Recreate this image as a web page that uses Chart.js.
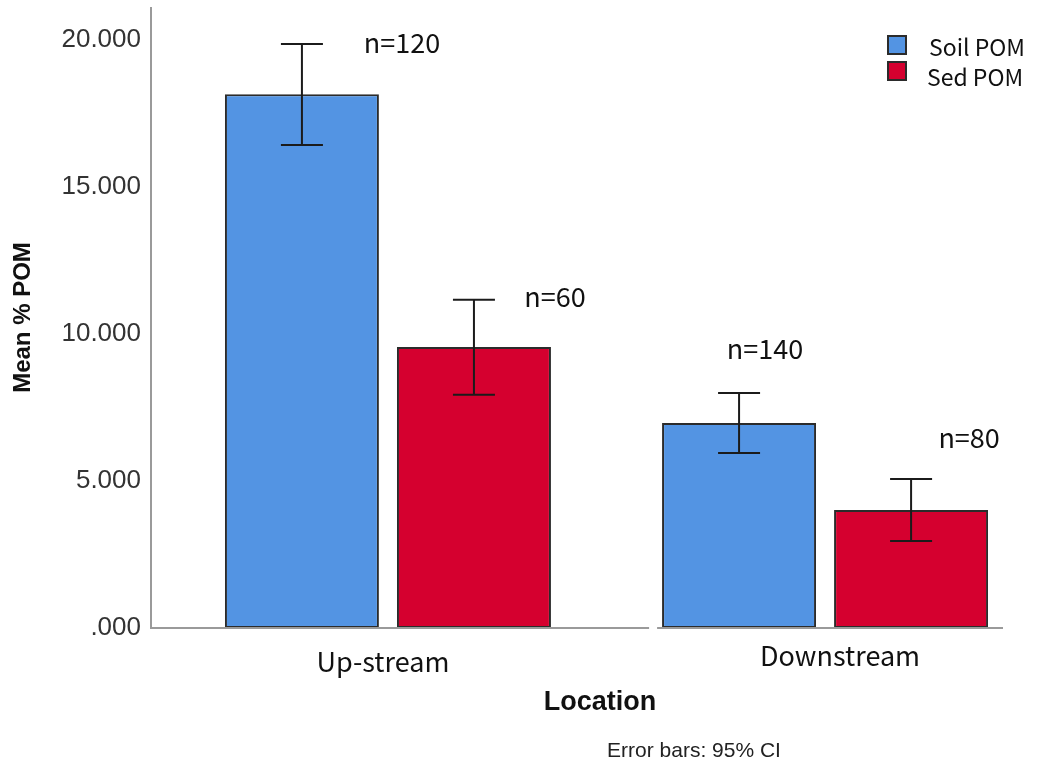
<!DOCTYPE html>
<html>
<head>
<meta charset="utf-8">
<script src="https://cdn.jsdelivr.net/npm/chart.js@4.4.1/dist/chart.umd.min.js"></script>
<style>
  html, body { margin: 0; padding: 0; background: #fff; }
  #wrap { width: 1037px; height: 765px; position: relative; }
</style>
</head>
<body>
<div id="wrap"><canvas id="graph-canvas" width="1037" height="765"></canvas></div>
<script>
// values
const categories = ['Up-stream', 'Downstream'];
const soilMean = [18.15, 6.97];
const soilLow = [16.43, 5.95];
const soilHigh = [19.86, 7.99];
const sedMean = [9.56, 4.01];
const sedLow = [7.93, 2.96];
const sedHigh = [11.16, 5.07];
const soilN = [120, 140];
const sedN = [60, 80];
const yTicks = [0, 5, 10, 15, 20];

const BLUE = '#5394E3';
const RED = '#D5002F';
const TXT = 'Noto Sans CJK KR, Noto Sans, sans-serif';
const ARIAL = 'Liberation Sans, Arial, sans-serif';

// n= label offsets from the bar centre / error top (px)
const nOffsets = [
  [[100, -1], [26, -44]],   // soil: up, down
  [[81, -3], [58, -41]]     // sed: up, down
];

const errorBars = {
  id: 'errorBars',
  afterDatasetsDraw(chart) {
    const ctx = chart.ctx;
    const y = chart.scales.y;
    const lows = [soilLow, sedLow], highs = [soilHigh, sedHigh];
    const counts = [soilN, sedN];
    ctx.save();
    chart.data.datasets.forEach((ds, di) => {
      chart.getDatasetMeta(di).data.forEach((bar, i) => {
        const yl = y.getPixelForValue(lows[di][i]);
        const yh = y.getPixelForValue(highs[di][i]);
        ctx.strokeStyle = '#1b1b1b';
        ctx.lineWidth = 2;
        ctx.beginPath();
        ctx.moveTo(bar.x, yl); ctx.lineTo(bar.x, yh);
        ctx.moveTo(bar.x - 21, yl); ctx.lineTo(bar.x + 21, yl);
        ctx.moveTo(bar.x - 21, yh); ctx.lineTo(bar.x + 21, yh);
        ctx.stroke();
        const off = nOffsets[di][i];
        ctx.fillStyle = '#111';
        ctx.font = '27px ' + TXT;
        ctx.textAlign = 'center';
        ctx.textBaseline = 'middle';
        ctx.fillText('n=' + counts[di][i], bar.x + off[0], yh + off[1]);
      });
    });
    ctx.restore();
  }
};

const extras = {
  id: 'extras',
  afterDraw(chart) {
    const ctx = chart.ctx;
    const area = chart.chartArea;
    const x = chart.scales.x;
    ctx.save();
    ctx.strokeStyle = '#9a9a9a';
    ctx.lineWidth = 2;
    // y axis line runs a little above the plot top
    ctx.beginPath();
    ctx.moveTo(area.left, 7); ctx.lineTo(area.left, area.bottom + 1);
    // x axis line with a small break before the second group
    const b = chart.getDatasetMeta(0).data[1];
    const gapR = b.x - b.width / 2 - 5;
    const gapL = gapR - 8;
    ctx.moveTo(area.left, area.bottom); ctx.lineTo(gapL, area.bottom);
    ctx.moveTo(gapR, area.bottom); ctx.lineTo(area.right, area.bottom);
    ctx.stroke();

    // category labels
    const catDx = [-5, 15], catDy = [34, 28];
    ctx.fillStyle = '#111';
    ctx.font = '27px ' + TXT;
    ctx.textAlign = 'center';
    ctx.textBaseline = 'middle';
    categories.forEach((c, i) => {
      ctx.fillText(c, x.getPixelForValue(i + 1) + catDx[i], area.bottom + catDy[i]);
    });

    ctx.fillStyle = '#111';
    ctx.font = 'bold 27px ' + ARIAL;
    ctx.fillText('Location', 600, 703);
    ctx.fillStyle = '#222';
    ctx.font = '21px ' + ARIAL;
    ctx.fillText('Error bars: 95% CI', 694, 751);

    // legend
    ctx.textAlign = 'left';
    ctx.font = '23px ' + TXT;
    chart.data.datasets.forEach((ds, i) => {
      const ly = 36 + i * 26;
      ctx.fillStyle = ds.backgroundColor;
      ctx.fillRect(888, ly, 18, 18);
      ctx.strokeStyle = '#2b2b2b';
      ctx.lineWidth = 2;
      ctx.strokeRect(888, ly, 18, 18);
      ctx.fillStyle = '#111';
      ctx.fillText(ds.label, i === 0 ? 929 : 927, 47 + i * 30);
    });
    ctx.restore();
  }
};

new Chart(document.getElementById('graph-canvas'), {
  type: 'bar',
  data: {
    datasets: [
      {
        label: 'Soil POM',
        data: soilMean.map((v, i) => ({ x: i + 1, y: v })),
        backgroundColor: BLUE,
        borderColor: '#2b2b2b',
        borderWidth: 2,
        borderSkipped: false
      },
      {
        label: 'Sed POM',
        data: sedMean.map((v, i) => ({ x: i + 1, y: v })),
        backgroundColor: RED,
        borderColor: '#2b2b2b',
        borderWidth: 2,
        borderSkipped: false
      }
    ]
  },
  options: {
    responsive: false,
    animation: false,
    categoryPercentage: 0.787,
    barPercentage: 0.895,
    layout: { padding: { top: 7, right: 34, left: 0, bottom: 0 } },
    plugins: { legend: { display: false }, tooltip: { enabled: false } },
    scales: {
      x: {
        type: 'linear',
        offset: false,
        min: 0.458,
        max: 2.407,
        afterBuildTicks: s => { s.ticks = categories.map((c, i) => ({ value: i + 1 })); },
        afterFit: s => { s.height = 137; s.paddingLeft = 0; s.paddingRight = 0; },
        ticks: { display: false },
        grid: { display: false, drawTicks: false },
        border: { display: false }
      },
      y: {
        min: 0,
        max: 21.12,
        afterBuildTicks: s => { s.ticks = yTicks.map(v => ({ value: v })); },
        afterFit: s => { s.width = 151; s.paddingTop = 0; s.paddingBottom = 0; },
        ticks: {
          padding: 10,
          color: '#333',
          font: { family: ARIAL, size: 26 },
          callback: v => v.toFixed(3).replace(/^0/, '')
        },
        grid: { display: false, drawTicks: false },
        border: { display: false },
        title: {
          display: true,
          text: 'Mean % POM',
          color: '#111',
          padding: { top: 9, bottom: 0 },
          font: { family: ARIAL, size: 24, weight: 'bold' }
        }
      }
    }
  },
  plugins: [errorBars, extras]
});
</script>
</body>
</html>
